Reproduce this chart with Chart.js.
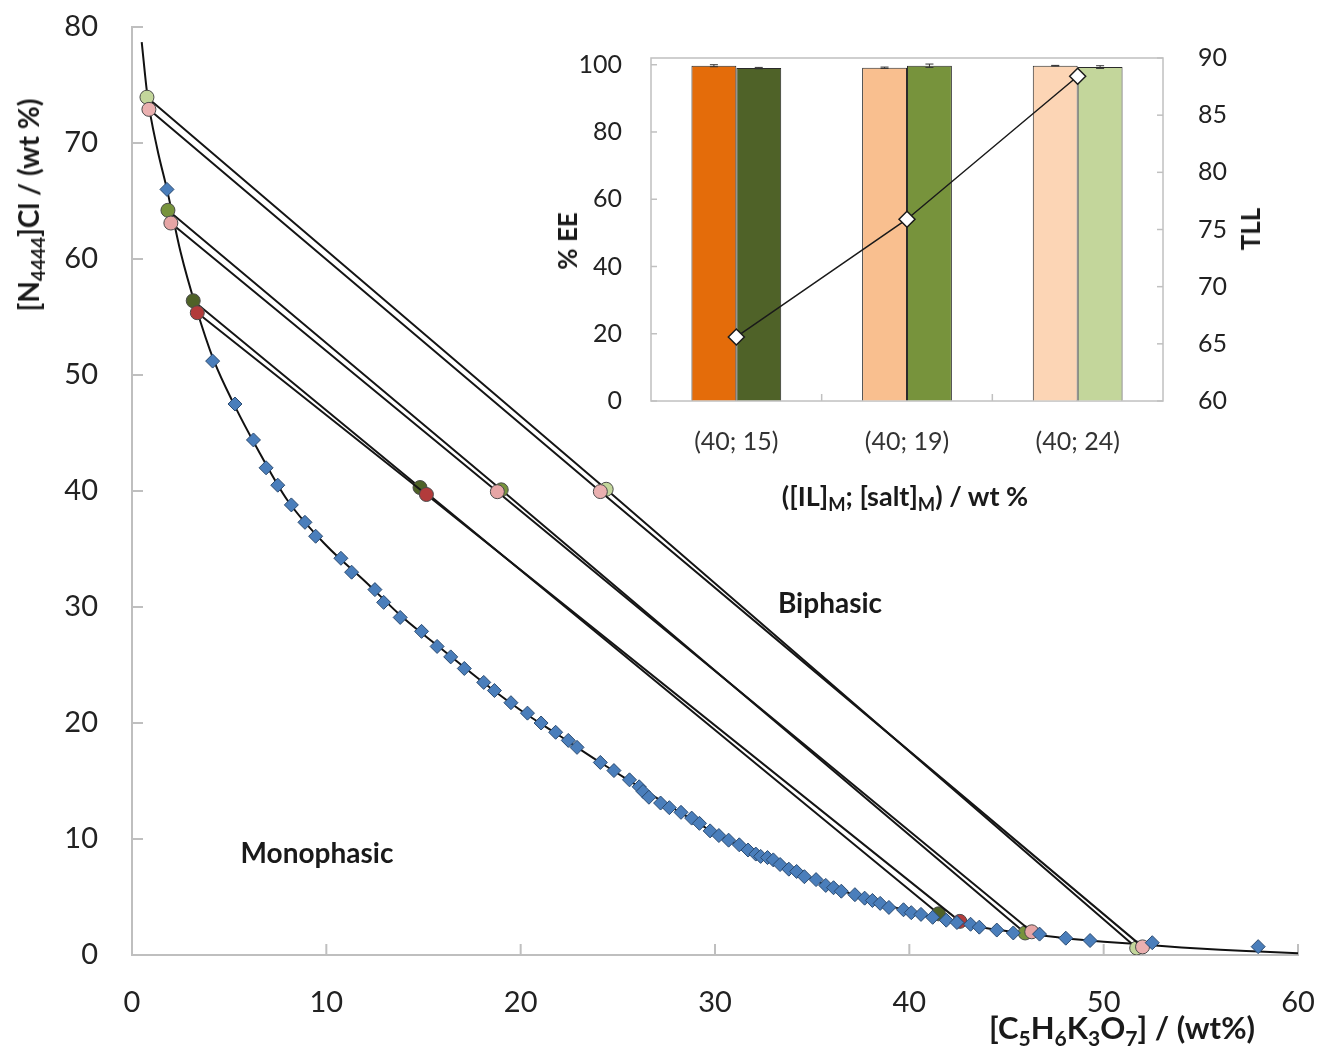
<!DOCTYPE html>
<html lang="en">
<head>
<meta charset="UTF-8">
<title>[N4444]Cl + C5H6K3O7 phase diagram</title>
<script src="https://cdn.jsdelivr.net/npm/chart.js"></script>
<style>
    body { margin: 0; background: #fff; font-family: Lato, sans-serif; }
    #wrap { position: relative; width: 1318px; height: 1052px; }
    #insetChart { position: absolute; left: 540px; top: 30px; }
    .lbl { position: absolute; font-weight: bold; color: #1a1a1a; white-space: nowrap; transform: translate(-50%, -50%); }
    .rot { transform: translate(-50%, -50%) rotate(-90deg); }
    sub { font-size: 0.68em; vertical-align: -0.32em; line-height: 0; }
</style>
</head>
<body>
<div id="wrap">
    <canvas id="mainChart" width="1318" height="1052"></canvas>
    <canvas id="insetChart" width="760" height="490"></canvas>
    <div class="lbl rot" style="left:28px;top:205px;font-size:28px">[N<sub>4444</sub>]Cl / (wt %)</div>
    <div class="lbl" style="left:1122px;top:1027px;font-size:31px">[C<sub>5</sub>H<sub>6</sub>K<sub>3</sub>O<sub>7</sub>] / (wt%)</div>
    <div class="lbl" style="left:830px;top:602px;font-size:28px">Biphasic</div>
    <div class="lbl" style="left:317px;top:852px;font-size:28px">Monophasic</div>
    <div class="lbl rot" style="left:567px;top:241px;font-size:26px">% EE</div>
    <div class="lbl rot" style="left:1250px;top:229px;font-size:26px">TLL</div>
    <div class="lbl" style="left:905px;top:495px;font-size:27px">([IL]<sub>M</sub>; [salt]<sub>M</sub>) / wt %</div>
</div>
<script>
    // main phase diagram
    const xTicks = [0, 10, 20, 30, 40, 50, 60];
    const yTicks = [0, 10, 20, 30, 40, 50, 60, 70, 80];

    // binodal data (blue diamonds)
    const binodalX = [1.8, 4.15, 5.3, 6.25, 6.9, 7.5, 8.2, 8.9, 9.45, 10.75, 11.3, 12.5, 12.95, 13.8, 14.9,
        15.7, 16.4, 17.1, 18.1, 18.65, 19.5, 20.35, 21.05, 21.8, 22.45, 22.9, 24.1, 24.8, 25.6, 26.1,
        26.3, 26.6, 27.2, 27.65, 28.25, 28.8, 29.2, 29.75, 30.2, 30.7, 31.25, 31.7, 32.1, 32.35, 32.7,
        33.0, 33.35, 33.8, 34.2, 34.6, 35.2, 35.7, 36.1, 36.5, 37.2, 37.7, 38.1, 38.5, 38.95, 39.7,
        40.1, 40.6, 41.2, 41.9, 42.45, 43.15, 43.6, 44.5, 45.35, 46.7, 48.05, 49.3, 52.5, 57.95];
    const binodalY = [66.0, 51.2, 47.5, 44.4, 42.0, 40.5, 38.8, 37.3, 36.1, 34.2, 33.0, 31.5, 30.4, 29.1, 27.9,
        26.6, 25.7, 24.7, 23.5, 22.8, 21.75, 20.85, 20.0, 19.2, 18.5, 17.9, 16.6, 15.9, 15.1, 14.5,
        14.1, 13.6, 13.1, 12.7, 12.3, 11.8, 11.35, 10.7, 10.3, 9.9, 9.5, 9.05, 8.7, 8.5, 8.4,
        8.2, 7.8, 7.4, 7.2, 6.75, 6.5, 6.0, 5.8, 5.5, 5.2, 4.9, 4.7, 4.45, 4.1, 3.9,
        3.65, 3.5, 3.25, 3.0, 2.8, 2.65, 2.4, 2.15, 1.9, 1.8, 1.45, 1.25, 1.06, 0.72];

    // fitted binodal curve
    const fitX = [0.5, 0.8, 1.3, 1.8, 2.5, 3.3, 4.2, 5.3, 6.5, 8, 10, 12, 14, 16, 18, 20, 22, 24, 26, 28,
        30, 32, 34, 36, 38, 40, 42, 44, 46, 48, 50, 52, 54, 56, 58, 60];
    const fitY = [78.7, 74.0, 69.5, 66.0, 60.6, 55.8, 51.3, 47.3, 43.5, 39.2, 35.3, 32.2, 29.0, 26.3, 23.6, 21.1, 18.9, 16.7, 14.6, 12.5,
        10.5, 8.8, 7.25, 5.85, 4.75, 3.75, 2.95, 2.3, 1.85, 1.45, 1.15, 0.9, 0.65, 0.45, 0.3, 0.15];

    // tie-lines: [top phase], [mixture], [bottom phase]
    const tie15green = [[3.15, 56.4], [14.82, 40.3], [41.5, 3.55]];
    const tie15red = [[3.36, 55.37], [15.15, 39.7], [42.6, 2.9]];
    const tie19green = [[1.85, 64.2], [19.0, 40.1], [45.96, 1.9]];
    const tie19pink = [[2.0, 63.1], [18.8, 39.94], [46.3, 2.0]];
    const tie24green = [[0.77, 73.95], [24.4, 40.15], [51.7, 0.6]];
    const tie24pink = [[0.87, 72.9], [24.1, 39.95], [52.0, 0.7]];

    // inset
    const insetLabels = ['(40; 15)', '(40; 19)', '(40; 24)'];
    const eeTopPhase = [99.7, 99.1, 99.7];
    const eeTopErr = [0.3, 0.2, 0.1];
    const eeBottomPhase = [99.0, 99.7, 99.3];
    const eeBottomErr = [0.2, 0.5, 0.4];
    const tll = [65.6, 75.9, 88.4];
    const eeTicks = [0, 20, 40, 60, 80, 100];
    const tllTicks = [60, 65, 70, 75, 80, 85, 90];

    Chart.defaults.font.family = 'Lato';
    Chart.defaults.color = '#222';

    // invisible tick marks are used as label offset, so the tick padding
    // does not push the plot area in
    function gap(len) {
        return { display: true, drawOnChartArea: false, drawTicks: true, tickLength: len, color: 'rgba(0,0,0,0)' };
    }

    const innerTicks = {
        id: 'innerTicks',
        beforeDatasetsDraw(chart, args, opts) {
            const ctx = chart.ctx, a = chart.chartArea;
            ctx.save();
            ctx.strokeStyle = opts.color;
            ctx.lineWidth = opts.width;
            if (opts.box) ctx.strokeRect(a.left, a.top, a.right - a.left, a.bottom - a.top);
            opts.marks.forEach(m => {
                const s = chart.scales[m.scale];
                m.values.forEach(v => {
                    const p = s.getPixelForValue(v);
                    ctx.beginPath();
                    if (m.side === 'bottom') { ctx.moveTo(p, a.bottom); ctx.lineTo(p, a.bottom - m.len); }
                    else if (m.side === 'left') { ctx.moveTo(a.left, p); ctx.lineTo(a.left + m.len, p); }
                    else { ctx.moveTo(a.right, p); ctx.lineTo(a.right - m.len, p); }
                    ctx.stroke();
                });
            });
            ctx.restore();
        }
    };

    function toPts(pairs) {
        return pairs.map(p => ({x: p[0], y: p[1]}));
    }

    function tieSet(pairs, color, order) {
        return {
            data: toPts(pairs),
            showLine: true,
            borderColor: '#151515',
            borderWidth: 2,
            pointRadius: 7,
            pointBackgroundColor: color,
            pointBorderColor: '#4a4a4a',
            pointBorderWidth: 1,
            order: order
        };
    }

    new Chart(document.getElementById('mainChart'), {
        type: 'scatter',
        data: {
            datasets: [
                {
                    data: binodalX.map((x, i) => ({x: x, y: binodalY[i]})),
                    pointStyle: 'rectRot',
                    pointRadius: 7,
                    pointBackgroundColor: '#4a7ebb',
                    pointBorderColor: '#2a4a70',
                    pointBorderWidth: 1,
                    order: 0
                },
                tieSet(tie15red, '#b23b3b', 1),
                tieSet(tie19pink, '#e6a5a5', 1),
                tieSet(tie24pink, '#eab0b0', 1),
                tieSet(tie15green, '#4f6228', 2),
                tieSet(tie19green, '#77933c', 2),
                tieSet(tie24green, '#c3d69b', 2),
                {
                    data: fitX.map((x, i) => ({x: x, y: fitY[i]})),
                    showLine: true,
                    borderColor: '#111',
                    borderWidth: 2,
                    pointRadius: 0,
                    cubicInterpolationMode: 'monotone',
                    order: 3
                }
            ]
        },
        options: {
            responsive: false,
            animation: false,
            layout: { padding: { left: 0, top: 27, right: 20, bottom: 0 } },
            plugins: {
                legend: { display: false },
                tooltip: { enabled: false },
                innerTicks: {
                    color: '#bfbfbf', width: 2, box: false,
                    marks: [
                        { scale: 'x', values: xTicks, side: 'bottom', len: 11 },
                        { scale: 'y', values: yTicks, side: 'left', len: 11 }
                    ]
                }
            },
            scales: {
                x: {
                    type: 'linear', min: 0, max: 60,
                    afterBuildTicks: s => { s.ticks = xTicks.map(v => ({value: v})); },
                    afterFit: s => { s.height = 97; },
                    ticks: { font: { size: 29 }, padding: 0, maxRotation: 0 },
                    grid: gap(30),
                    border: { color: '#bfbfbf', width: 2 }
                },
                y: {
                    type: 'linear', min: 0, max: 80,
                    afterBuildTicks: s => { s.ticks = yTicks.map(v => ({value: v})); },
                    afterFit: s => { s.width = 132; },
                    ticks: { font: { size: 29 }, padding: 0 },
                    grid: gap(34),
                    border: { color: '#bfbfbf', width: 2 }
                }
            }
        },
        plugins: [innerTicks]
    });

    const errorBars = {
        id: 'errorBars',
        afterDatasetsDraw(chart) {
            const ctx = chart.ctx, ys = chart.scales.y;
            ctx.save();
            ctx.strokeStyle = '#333';
            ctx.lineWidth = 1;
            [eeTopErr, eeBottomErr].forEach((err, di) => {
                const vals = chart.data.datasets[di].data;
                chart.getDatasetMeta(di).data.forEach((bar, j) => {
                    const y1 = ys.getPixelForValue(vals[j] + err[j]);
                    const y2 = ys.getPixelForValue(vals[j] - err[j]);
                    ctx.beginPath();
                    ctx.moveTo(bar.x, y1); ctx.lineTo(bar.x, y2);
                    ctx.moveTo(bar.x - 4, y1); ctx.lineTo(bar.x + 4, y1);
                    ctx.moveTo(bar.x - 4, y2); ctx.lineTo(bar.x + 4, y2);
                    ctx.stroke();
                });
            });
            ctx.restore();
        }
    };

    new Chart(document.getElementById('insetChart'), {
        type: 'bar',
        data: {
            labels: insetLabels,
            datasets: [
                {
                    data: eeTopPhase,
                    backgroundColor: ['#e46c0a', '#f9bf8f', '#fcd5b5'],
                    borderColor: '#2a2a2a', borderWidth: 1,
                    categoryPercentage: 0.526, barPercentage: 1.0,
                    order: 1
                },
                {
                    data: eeBottomPhase,
                    backgroundColor: ['#4f6228', '#77933c', '#c3d69b'],
                    borderColor: '#2a2a2a', borderWidth: 1,
                    categoryPercentage: 0.526, barPercentage: 1.0,
                    order: 1
                },
                {
                    type: 'line',
                    data: tll,
                    yAxisID: 'y2',
                    borderColor: '#1a1a1a',
                    borderWidth: 1.5,
                    pointStyle: 'rectRot',
                    pointRadius: 8,
                    pointBackgroundColor: '#fff',
                    pointBorderColor: '#1a1a1a',
                    pointBorderWidth: 1.5,
                    order: 0
                }
            ]
        },
        options: {
            responsive: false,
            animation: false,
            layout: { padding: { left: 0, top: 28, right: 0, bottom: 0 } },
            plugins: {
                legend: { display: false },
                tooltip: { enabled: false },
                innerTicks: {
                    color: '#c0c0c0', width: 1.5, box: true,
                    marks: [
                        { scale: 'x', values: [0.5, 1.5], side: 'bottom', len: 7 },
                        { scale: 'y', values: eeTicks, side: 'left', len: 6 },
                        { scale: 'y2', values: tllTicks, side: 'right', len: 6 }
                    ]
                }
            },
            scales: {
                x: {
                    afterFit: s => { s.height = 119; },
                    ticks: { font: { size: 25 }, padding: 0, color: '#333' },
                    grid: gap(26),
                    border: { display: false }
                },
                y: {
                    position: 'left', min: 0, max: 102,
                    afterBuildTicks: s => { s.ticks = eeTicks.map(v => ({value: v})); },
                    afterFit: s => { s.width = 111; },
                    ticks: { font: { size: 25 }, padding: 0 },
                    grid: gap(29),
                    border: { display: false }
                },
                y2: {
                    position: 'right', min: 60, max: 90,
                    afterBuildTicks: s => { s.ticks = tllTicks.map(v => ({value: v})); },
                    afterFit: s => { s.width = 137; },
                    ticks: { font: { size: 25 }, padding: 0 },
                    grid: gap(35),
                    border: { display: false }
                }
            }
        },
        plugins: [innerTicks, errorBars]
    });
</script>
</body>
</html>
